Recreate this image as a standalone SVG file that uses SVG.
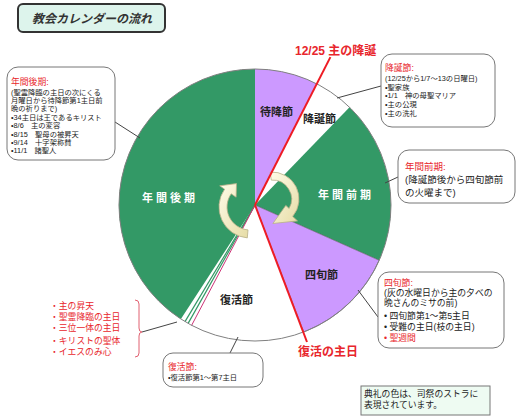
<svg xmlns="http://www.w3.org/2000/svg" width="520" height="419" viewBox="0 0 520 419">
<defs>
<style>
text{font-family:"Liberation Sans","Noto Sans CJK JP",sans-serif;}
.call{fill:#fff;stroke:#777;stroke-width:1;}
.lead{stroke:#444;stroke-width:1;fill:none;}
.sm{font-size:7.3px;fill:#222;}
.md{font-size:8.8px;fill:#222;}
.wl{font-size:11px;font-weight:bold;fill:#222;}
.wh{font-size:11px;font-weight:bold;fill:#fff;letter-spacing:3px;}
.big{font-size:12px;font-weight:bold;fill:#e8262c;}
.arrow{fill:url(#ag);stroke:#b8b088;stroke-width:0.8;}
.red{fill:#e8262c;}
</style>
<linearGradient id="ag" x1="0" y1="0" x2="1" y2="1">
<stop offset="0" stop-color="#fffce8"/>
<stop offset="1" stop-color="#e6dca6"/>
</linearGradient>
</defs>
<rect width="520" height="419" fill="#fff"/>

<g id="title">
<rect x="18" y="4" width="147" height="28" rx="5" fill="#ddf4ec" stroke="#333" stroke-width="2"/>
<text x="32" y="23" font-size="12" font-weight="bold" font-style="italic" fill="#333">教会カレンダーの流れ</text>
</g>

<g id="pie">
<path id="advent" d="M255 205 L255 69 A136 136 0 0 1 316.7 83.8 Z" fill="#cc99ff"/>
<path id="christmas" d="M255 205 L316.7 83.8 A136 136 0 0 1 349.5 107.2 Z" fill="#fff"/>
<path id="ordinary1" d="M255 205 L349.5 107.2 A136 136 0 0 1 379.2 260.3 Z" fill="#339966"/>
<path id="lent" d="M255 205 L379.2 260.3 A136 136 0 0 1 303.7 332 Z" fill="#cc99ff" stroke="#555" stroke-width="0.6"/>
<path id="easter" d="M255 205 L303.7 332 A136 136 0 0 1 180.9 319.1 Z" fill="#fff"/>
<path id="ordinary2" d="M255 205 L180.9 319.1 A136 136 0 0 1 255 69 Z" fill="#339966"/>
<g stroke="#339966" stroke-width="1.2">
<line x1="255" y1="205" x2="185" y2="321.6"/>
<line x1="255" y1="205" x2="188.1" y2="323.4"/>
</g>
<line x1="255" y1="205" x2="191.6" y2="325.4" stroke="#cc3377" stroke-width="1"/>
<circle cx="255" cy="205" r="136" fill="none" stroke="#808080" stroke-width="1"/>
<text class="wl" x="260" y="116">待降節</text>
<text class="wl" x="303" y="123">降誕節</text>
<text class="wh" x="318" y="199">年間前期</text>
<text class="wh" x="142" y="202">年間後期</text>
<text class="wl" x="305" y="279">四旬節</text>
<text class="wl" x="220" y="304">復活節</text>
</g>

<g id="arrows">
<path class="arrow" d="M247.3 237.9 A31 31 0 0 1 224.6 189.2 L219.7 185.8 L236.5 183.6 L236.1 197.2 L231.2 193.8 A23 23 0 0 0 248 229.9 Z"/>
<path class="arrow" d="M270.1 172.1 A27 27 0 0 1 292.7 216.4 L297.5 220.9 L272.9 223.5 L285.8 205.4 L289.1 208.4 A19 19 0 0 0 271.3 180.1 Z"/>
</g>

<g id="connectors">
<line x1="255" y1="205" x2="330.4" y2="57.1" stroke="#ee1c24" stroke-width="2"/>
<line x1="255" y1="205" x2="307" y2="342" stroke="#ee1c24" stroke-width="2"/>
<line class="lead" x1="115" y1="122" x2="140" y2="138"/>
<line class="lead" x1="381" y1="86" x2="337" y2="98"/>
<line class="lead" x1="398" y1="177" x2="385" y2="183"/>
<line class="lead" x1="358" y1="290" x2="378" y2="317"/>
<line class="lead" x1="142" y1="332" x2="177" y2="322"/>
<line class="lead" x1="230" y1="353" x2="238" y2="337"/>
</g>

<g id="label-christmas-day">
<text class="big" x="295" y="55">12/25 主の降誕</text>
</g>
<g id="label-easter-day">
<text class="big" x="298" y="356">復活の主日</text>
</g>

<g id="callout-ordinary2">
<rect class="call" x="7" y="67" width="108" height="93" rx="11"/>
<text class="md red" x="11" y="84.5">年間後期:</text>
<text class="sm" x="11" y="94.5">(聖霊降臨の主日の次にくる</text>
<text class="sm" x="11" y="102.9">月曜日から待降節第1主日前</text>
<text class="sm" x="11" y="111.3">晩の祈りまで)</text>
<text class="sm" x="11" y="119.7">•34主日は王であるキリスト</text>
<text class="sm" x="11" y="128.1">•8/6　主の変容</text>
<text class="sm" x="11" y="136.5">•8/15　聖母の被昇天</text>
<text class="sm" x="11" y="144.9">•9/14　十字架称賛</text>
<text class="sm" x="11" y="153.3">•11/1　諸聖人</text>
</g>

<g id="callout-christmas">
<rect class="call" x="381" y="54" width="114" height="73" rx="11"/>
<text class="md red" x="385" y="70.5">降誕節:</text>
<text class="sm" x="385" y="80.5">(12/25から1/7～13の日曜日)</text>
<text class="sm" x="385" y="89.5">•聖家族</text>
<text class="sm" x="385" y="98.3">•1/1　神の母聖マリア</text>
<text class="sm" x="385" y="107">•主の公現</text>
<text class="sm" x="385" y="115.7">•主の洗礼</text>
</g>

<g id="callout-ordinary1">
<rect class="call" x="398" y="150" width="117" height="53" rx="11"/>
<text class="red" x="405" y="170" font-size="9.5">年間前期:</text>
<text x="405" y="183" font-size="9.5" fill="#222">(降誕節後から四旬節前</text>
<text x="405" y="195.5" font-size="9.5" fill="#222">の火曜まで)</text>
</g>

<g id="callout-lent">
<rect class="call" x="378" y="272" width="126" height="76" rx="11"/>
<text class="md red" x="384" y="286">四旬節:</text>
<text class="md" x="384" y="296.3">(灰の水曜日から主の夕べの</text>
<text class="md" x="384" y="306.3">晩さんのミサの前)</text>
<text class="md" x="384" y="319">• 四旬節第1～第5主日</text>
<text class="md" x="384" y="330">• 受難の主日(枝の主日)</text>
<text class="md red" x="384" y="340.8">• 聖週間</text>
</g>

<g id="feast-list">
<text class="md red" x="50" y="308.5">・主の昇天</text>
<text class="md red" x="50" y="319.5">・聖霊降臨の主日</text>
<text class="md red" x="50" y="331">・三位一体の主日</text>
<text class="md red" x="50" y="343.5">・キリストの聖体</text>
<text class="md red" x="50" y="354.5">・イエスのみ心</text>
<path d="M135 300 Q139 300 139 304 L139 328 Q139 332 142 332 Q139 332 139 336 L139 353 Q139 357 135 357" fill="none" stroke="#e06070" stroke-width="1"/>
</g>

<g id="callout-easter">
<rect class="call" x="163" y="353" width="100" height="34" rx="10"/>
<text class="md red" x="168" y="370">復活節:</text>
<text class="sm" x="168" y="380">•復活節第1～第7主日</text>
</g>

<g id="note">
<rect x="361" y="386" width="129" height="29" fill="#eefbf2" stroke="#777" stroke-width="1"/>
<text class="md" x="364" y="397">典礼の色は、司祭のストラに</text>
<text class="md" x="364" y="408">表現されています。</text>
</g>
</svg>
